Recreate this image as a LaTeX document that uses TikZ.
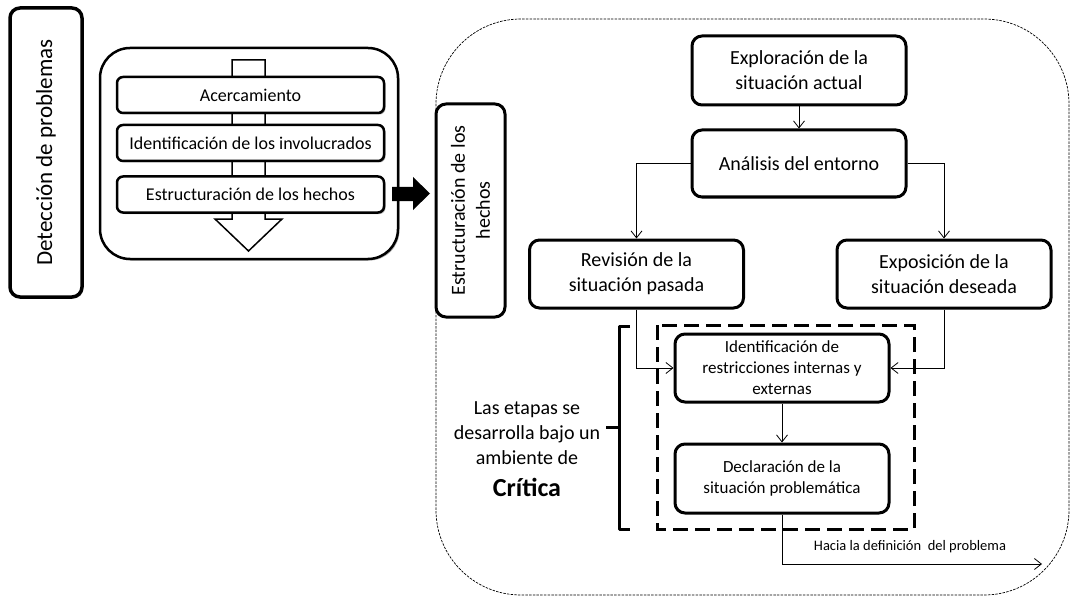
\documentclass[tikz,border=0pt]{standalone}
\usepackage{fontspec}
\setmainfont{Carlito}
\usetikzlibrary{arrows.meta,shadows}
\begin{document}
\begin{tikzpicture}[x=1pt,y=-1pt,
  shd/.style={drop shadow={shadow xshift=1.5pt,shadow yshift=-1.5pt,fill=black,opacity=0.3}},
  rbox/.style={draw,line width=3pt,rounded corners=10pt,fill=white,align=center,inner sep=0pt,
    minimum width=214pt,font=\fontsize{20}{25}\selectfont},
  sbox/.style={draw,line width=3pt,rounded corners=10pt,fill=white,align=center,inner sep=0pt,
    minimum width=214pt,font=\fontsize{17}{21}\selectfont},
  lbox/.style={draw,line width=2.5pt,rounded corners=6pt,fill=white,inner sep=0pt,shd,
    minimum width=267pt,minimum height=36pt,font=\fontsize{18}{22}\selectfont},
  conn/.style={line width=0.8pt,-{Straight Barb[length=7pt,width=11pt]}},
  plain/.style={align=center,inner sep=0pt}]
\useasboundingbox (0,0) rectangle (1070,596);

% ---------- left part ----------
\node[draw,line width=3.5pt,rounded corners=10pt,fill=white,shd,minimum width=72pt,minimum height=289pt,inner sep=0pt] (det) at (46,152.5) {};
\node[plain,rotate=90,font=\fontsize{23}{28}\selectfont] (dett) at (det.center) {Detección de problemas};

\node[draw,line width=2.5pt,rounded corners=30pt,fill=white,shd,minimum width=298pt,minimum height=211pt,inner sep=0pt] (outer) at (249,153.5) {};

% hollow down arrow
\draw[line width=1.5pt,fill=white,line join=miter]
  (232,60) -- (265,60) -- (265,219) -- (282,219) -- (248.5,251) -- (215,219) -- (232,219) -- cycle;

\node[lbox] (acer) at (250.5,95) {Acercamiento};
\node[lbox] (iden) at (250.5,143) {Identificación de los involucrados};
\node[lbox] (estr) at (250.5,194.5) {Estructuración de los hechos};

% black arrow
\fill[black] (392,187) -- (413,187) -- (413,177) -- (430,193.5) -- (413,210) -- (413,201) -- (392,201) -- cycle;

% ---------- right region ----------
\draw[line width=0.7pt,dash pattern=on 2.5pt off 1.2pt,rounded corners=85pt] (436,19) rectangle (1069,595);

\node[draw,line width=3pt,rounded corners=10pt,fill=white,minimum width=69pt,minimum height=213pt,inner sep=0pt] (est) at (470.5,210.5) {};
\node[plain,rotate=90,font=\fontsize{20}{25}\selectfont] (estt) at (est.center) {Estructuración de los\\hechos};

\node[rbox,minimum height=69pt] (expl) at (799,70.5) {Exploración de la\\situación actual};
\node[rbox,minimum height=67pt] (anal) at (799,163.5) {Análisis del entorno};
\node[rbox,minimum height=68pt] (rev) at (636.5,274) {Revisión de la\\situación pasada};
\node[rbox,minimum height=68pt] (expo) at (944,274) {Exposición de la\\situación deseada};

% dashed group and bracket
\draw[line width=3pt,dash pattern=on 15pt off 7pt] (657,325) rectangle (914,529);
\draw[line width=3pt,line join=round] (630,326) -- (619,326) -- (619,529) -- (630,529);
\draw[line width=3pt] (619,427) -- (606,427);

\node[sbox,minimum height=68pt] (ident) at (782,368) {Identificación de\\restricciones internas y\\externas};
\node[sbox,minimum height=69pt] (decl) at (782,478.5) {Declaración de la\\situación problemática};

\coordinate (hacia) at (1042,564);

% connectors
\draw[conn] (expl.south) -- (anal.north);
\draw[conn] (anal.west) -| (rev.north);
\draw[conn] (anal.east) -| (expo.north);
\draw[conn] (rev.south) |- (ident.west);
\draw[conn] (expo.south) |- (ident.east);
\draw[conn] (ident.south) -- (decl.north);
\draw[conn] (decl.south) |- (hacia);

\node[plain,font=\fontsize{14.5}{17}\selectfont] (hlab) at (910,547) {Hacia la definición\ \ del problema};

\node[plain,font=\fontsize{20}{25}\selectfont] (etap) at (527,433) {Las etapas se\\desarrolla bajo un\\ambiente de};
\node[plain,font=\fontsize{26}{30}\selectfont\bfseries] (crit) at (527,487) {Crítica};
\end{tikzpicture}
\end{document}
